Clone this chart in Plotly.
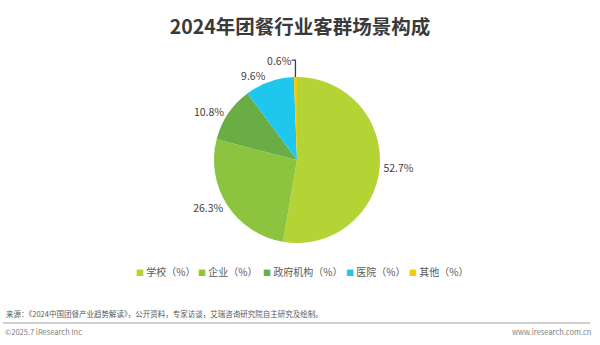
import plotly.graph_objects as go

categories = ["学校（%）", "企业（%）", "政府机构（%）", "医院（%）", "其他（%）"]
values = [52.7, 26.3, 10.8, 9.6, 0.6]
colors = ["#b4d334", "#8cc43f", "#6aad45", "#1fc6ee", "#f8c800"]
title = "2024年团餐行业客群场景构成"
source = "来源：《2024中国团餐产业趋势解读》，公开资料，专家访谈，艾瑞咨询研究院自主研究及绘制。"

FONT = "Noto Sans CJK SC"
W, H = 600, 345

fig = go.Figure(go.Pie(
    labels=categories,
    values=values,
    sort=False,
    direction="clockwise",
    rotation=0,
    marker=dict(colors=colors, line=dict(width=0)),
    texttemplate="%{value:.1f}%",
    textposition="outside",
    textfont=dict(size=10.5, color="#404040", family=FONT),
    hoverinfo="label+value",
    showlegend=False,
    domain=dict(x=[197 / W, 397 / W], y=[(H - 243) / H, (H - 77) / H]),
))

# legend drawn as a row of text items (colored square + label)
legend_x = [134, 196, 261, 344, 407]
annotations = []
for lab, col, lx in zip(categories, colors, legend_x):
    annotations.append(dict(
        text=f"<span style='color:{col};font-size:8px'>■</span> {lab}",
        xref="paper", yref="paper", x=lx / W, y=(H - 271) / H,
        xanchor="left", yanchor="middle", showarrow=False,
        font=dict(size=10, color="#595959", family=FONT)))

annotations += [
    dict(text=source, xref="paper", yref="paper", x=4 / W, y=(H - 313) / H,
         xanchor="left", yanchor="middle", showarrow=False,
         font=dict(size=7.5, color="#595959", family=FONT)),
    dict(text="©2025.7 iResearch Inc", xref="paper", yref="paper", x=3 / W, y=(H - 331) / H,
         xanchor="left", yanchor="middle", showarrow=False,
         font=dict(size=7.5, color="#808080", family=FONT)),
    dict(text="www.iresearch.com.cn", xref="paper", yref="paper", x=593 / W, y=(H - 331) / H,
         xanchor="right", yanchor="middle", showarrow=False,
         font=dict(size=7.5, color="#808080", family=FONT)),
]

fig.update_layout(
    width=W, height=H,
    margin=dict(l=0, r=0, t=0, b=0),
    paper_bgcolor="white",
    plot_bgcolor="white",
    font=dict(family=FONT, color="#404040"),
    title=dict(text="<b>" + title + "</b>", x=0.5, xanchor="center", y=(H - 27) / H, yanchor="middle",
               font=dict(size=19.5, color="#3a3a3a", family=FONT)),
    shapes=[dict(type="line", xref="paper", yref="paper", x0=3 / W, x1=590 / W,
                 y0=(H - 323) / H, y1=(H - 323) / H,
                 line=dict(color="#a0a0a0", width=1.2))],
    annotations=annotations,
)

fig.write_html("out.html")
